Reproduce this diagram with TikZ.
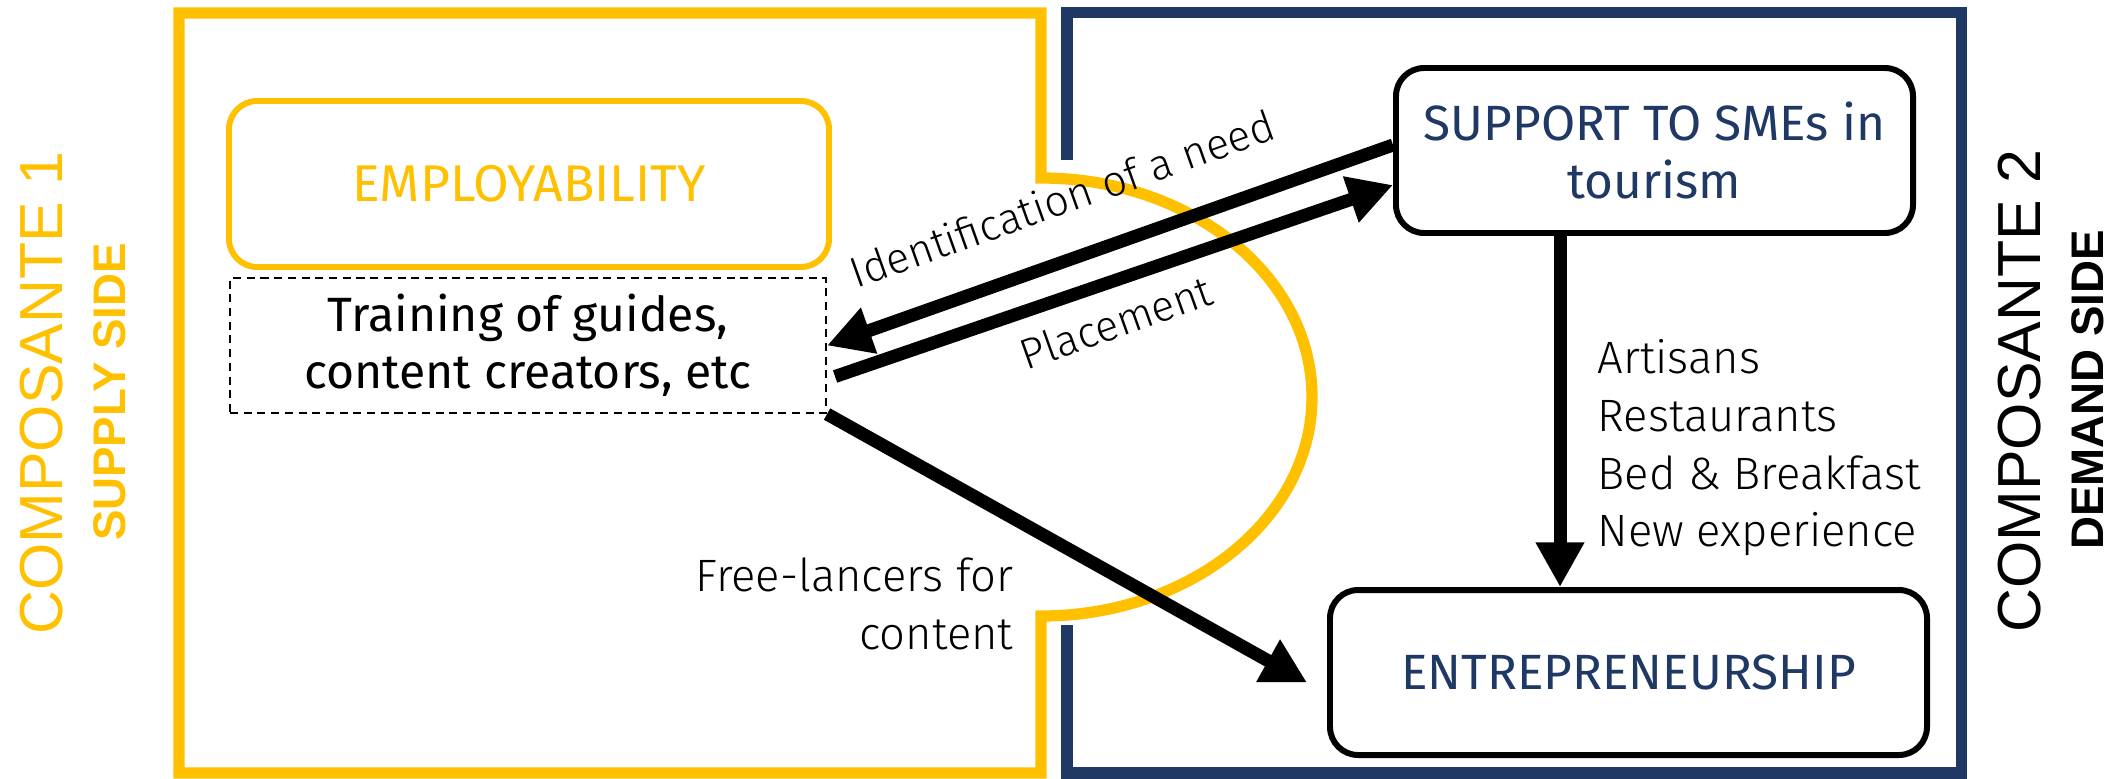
\documentclass[tikz,border=0pt]{standalone}
\usepackage{fontspec}
\setmainfont{Fira Sans}
\IfFontExistsTF{Fira Sans Light}{\newfontfamily\lightfont{Fira Sans Light}}{%
  \IfFontExistsTF{FiraSans-Light.otf}{\newfontfamily\lightfont{FiraSans-Light.otf}}{\newfontfamily\lightfont{Fira Sans}}}
\newfontfamily\sidefont{Liberation Sans}
\usetikzlibrary{shapes, arrows.meta, positioning}
\definecolor{gold}{HTML}{FFC000}
\definecolor{navy}{HTML}{1F3864}
\tikzstyle{goldframe} = [draw=gold, line width=3.2pt]
\tikzstyle{navyframe} = [draw=navy, line width=3.2pt]
\tikzstyle{goldbox} = [rectangle, rounded corners=8pt, draw=gold, line width=1.7pt, text=gold, font=\fontsize{14.7}{17}\selectfont]
\tikzstyle{smebox} = [rectangle, rounded corners=8pt, draw=black, line width=1.7pt, text=navy, align=center, font=\fontsize{14.1}{16.4}\selectfont]
\tikzstyle{dashbox} = [rectangle, draw, line width=0.6pt, dash pattern=on 2.3pt off 1.6pt, align=center, font=\fontsize{13.7}{16.2}\selectfont]
\tikzstyle{flow} = [-{Triangle[length=12.7pt, width=13pt]}, line width=3.7pt]
\tikzstyle{lbl} = [inner sep=0pt, font=\lightfont\fontsize{12.9}{15}\selectfont]
\tikzstyle{side} = [rotate=90, inner sep=0pt]

\begin{document}
\begin{tikzpicture}
  \useasboundingbox (0,0) rectangle (21.18,7.78);

  % frames
  \draw[goldframe] (10.41,6.00) -- (10.41,7.65) -- (1.79,7.65) -- (1.79,0.05) -- (10.41,0.05) -- (10.41,1.62)
    arc[start angle=-90, end angle=90, x radius=2.71, y radius=2.19] -- cycle;
  \draw[navyframe] (10.67,6.18) -- (10.67,7.655) -- (19.615,7.655) -- (19.615,0.05) -- (10.67,0.05) -- (10.67,1.53);

  % supply side
  \node[side, text=gold, font=\sidefont\fontsize{17.3}{20}\selectfont] (comp1) at (0.42,3.85) {COMPOSANTE 1};
  \node[side, text=gold, font=\sidefont\bfseries\fontsize{13}{15}\selectfont] (supply) at (1.10,3.86) {SUPPLY SIDE};
  \node[goldbox, minimum width=6cm, minimum height=1.66cm] (employ) at (5.29,5.94) {EMPLOYABILITY};
  \node[dashbox, minimum width=5.96cm, minimum height=1.35cm] (train) at (5.28,4.325) {Training of guides,\\content creators, etc};

  % demand side
  \node[smebox, minimum width=5.17cm, minimum height=1.65cm] (smes) at (16.545,6.275) {SUPPORT TO SMEs in\\tourism};
  \node[smebox, minimum width=5.97cm, minimum height=1.65cm] (entre) at (16.285,1.055) {ENTREPRENEURSHIP};
  \node[side, font=\sidefont\fontsize{17.3}{20}\selectfont] (comp2) at (20.2,3.87) {COMPOSANTE 2};
  \node[side, font=\sidefont\bfseries\fontsize{13}{15}\selectfont] (demand) at (20.88,3.88) {DEMAND SIDE};

  % sectors
  \node[lbl, anchor=base west] (art) at (15.97,4.05) {Artisans};
  \node[lbl, anchor=base west] (rest) at (15.97,3.47) {Restaurants};
  \node[lbl, anchor=base west] (bnb) at (15.97,2.89) {Bed \& Breakfast};
  \node[lbl, anchor=base west] (newexp) at (15.97,2.32) {New experience};

  % free-lancers
  \node[lbl, anchor=base east] (free1) at (10.14,1.87) {Free-lancers for};
  \node[lbl, anchor=base east] (free2) at (10.14,1.29) {content};

  % flows
  \coordinate (vx) at (15.60,0);
  \draw[flow] ([yshift=0.55mm]smes.west) -- (train.east);
  \draw[flow] ([xshift=0.8mm,yshift=-3.1mm]train.east) -- ([yshift=-3.45mm]smes.west);
  \draw[flow] (smes.south -| vx) -- (entre.north -| vx);
  \draw[flow] (train.south east) -- ([xshift=-2mm,yshift=-1mm]entre.west);

  % flow labels
  \node[lbl, rotate=19.6, anchor=base, font=\lightfont\fontsize{12.2}{14}\selectfont] (needlbl) at (10.675,5.645) {Identification of a need};
  \node[lbl, rotate=19.6, anchor=base, font=\lightfont\fontsize{12.2}{14}\selectfont] (placelbl) at (11.21,4.41) {Placement};
\end{tikzpicture}
\end{document}
